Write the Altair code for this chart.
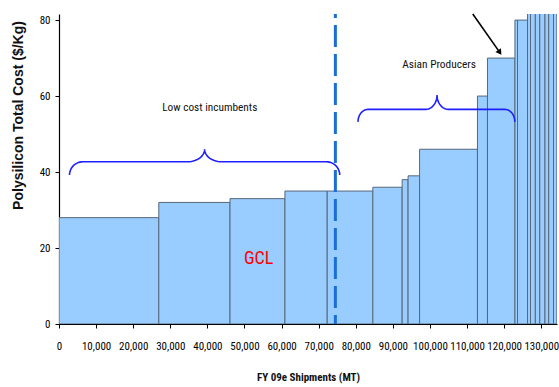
import math
import altair as alt
import pandas as pd

# Cumulative FY09e shipments (MT) at the right edge of each producer block
ship_end = [26900, 46100, 60900, 72300, 84600, 92500, 94100, 97200, 112800,
            115500, 122900, 123600, 126300, 127100, 128400, 129600, 131000,
            132000, 133300, 134200]
# Total polysilicon cost of each producer ($/Kg)
cost = [28, 32, 33, 35, 35, 36, 38, 39, 46, 60, 70, 80, 80,
        88, 92, 96, 100, 105, 110, 120]

x_ticks = list(range(0, 130001, 10000))
y_ticks = [0, 20, 40, 60, 80]
X_MAX = 134240
Y_MAX = 81.6

gcl_capacity_mark = 74500  # dashed divider

NARROW = "Noto Sans Condensed, Roboto Condensed, Open Sans Condensed, Liberation Sans"
BOLD = "Liberation Sans, Arial"

ship_start = [0] + ship_end[:-1]
bars = pd.DataFrame({"start": ship_start, "end": ship_end, "cost": cost})

xs = alt.Scale(domain=[0, X_MAX], nice=False, zero=False)
ys = alt.Scale(domain=[0, Y_MAX], nice=False)

x_axis = alt.Axis(values=x_ticks, format=",.0f", title="FY 09e Shipments (MT)",
                  labelFlush=False, labelPadding=12, titlePadding=20,
                  titleFont=NARROW, titleFontSize=11, titleFontWeight="bold")
y_axis = alt.Axis(values=y_ticks, format=".0f", title="Polysilicon Total Cost ($/Kg)",
                  labelPadding=5, titleFont=BOLD, titleFontSize=14,
                  titleFontWeight="bold", titleX=-41, titleY=101,
                  titleBaseline="middle", titleAngle=-90, titleAlign="center")

X = dict(scale=xs, axis=x_axis)
Y = dict(scale=ys, axis=y_axis)

cost_curve = alt.Chart(bars).mark_rect(
    fill="#99CCFF", stroke="#56687a", strokeWidth=1, clip=True
).encode(
    x=alt.X("start:Q", **X),
    x2="end:Q",
    y=alt.Y("cost:Q", **Y),
    y2=alt.datum(0),
)


def brace(name, x0, x1, xm, yb, drop, rise, rx_end, rx_mid, n=14):
    """Curly brace opening downward, tip pointing up at xm."""
    pts = []
    # left curl: vertical end rising into horizontal
    for i in range(n + 1):
        t = i / n * math.pi / 2
        pts.append((x0 + rx_end - rx_end * math.cos(t), yb - drop + drop * math.sin(t)))
    # rise to the tip
    for i in range(n + 1):
        t = i / n * math.pi / 2
        pts.append((xm - rx_mid + rx_mid * math.sin(t), yb + rise - rise * math.cos(t)))
    # back down from the tip
    for i in range(n + 1):
        t = i / n * math.pi / 2
        pts.append((xm + rx_mid - rx_mid * math.cos(t), yb + rise - rise * math.sin(t)))
    # right curl
    for i in range(n + 1):
        t = i / n * math.pi / 2
        pts.append((x1 - rx_end + rx_end * math.sin(t), yb - drop + drop * math.cos(t)))
    return pd.DataFrame({"x": [p[0] for p in pts], "y": [p[1] for p in pts],
                         "k": list(range(len(pts))), "brace": name})


braces = pd.concat([
    brace("incumbents", 2830, 75670, 39250, 42.7, 3.5, 3.3, 3600, 4600),
    brace("asian", 80600, 122870, 101900, 56.5, 3.3, 3.8, 2700, 3000),
])

brace_lines = alt.Chart(braces).mark_line(
    color="#1f1fff", strokeWidth=1.6, clip=False
).encode(
    x=alt.X("x:Q", **X), y=alt.Y("y:Q", **Y),
    order="k:Q", detail="brace:N",
)

divider = alt.Chart(pd.DataFrame({"x": [gcl_capacity_mark]})).mark_rule(
    color="#1a6fd6", strokeWidth=3, strokeDash=[22, 7], strokeDashOffset=18
).encode(x=alt.X("x:Q", **X))

labels = pd.DataFrame({
    "x": [40640, 102450, 53820],
    "y": [56.8, 68.2, 17.1],
    "text": ["Low cost incumbents", "Asian Producers", "GCL"],
    "color": ["#111111", "#111111", "#ff0000"],
    "size": [11.3, 11.4, 18],
})
label_marks = alt.Chart(labels).mark_text(
    font=NARROW, align="center", baseline="middle"
).encode(
    x=alt.X("x:Q", **X), y=alt.Y("y:Q", **Y), text="text:N",
    color=alt.Color("color:N", scale=None),
    size=alt.Size("size:Q", scale=None),
)

arrow = pd.DataFrame({"x": [111540, 118670], "y": [Y_MAX, 71.7], "k": [0, 1]})
arrow_line = alt.Chart(arrow).mark_line(
    color="black", strokeWidth=1.6, clip=False
).encode(x=alt.X("x:Q", **X), y=alt.Y("y:Q", **Y), order="k:Q")
arrow_head = alt.Chart(arrow.iloc[[1]]).mark_point(
    shape="triangle", filled=True, color="black", size=45, angle=146, opacity=1
).encode(x=alt.X("x:Q", **X), y=alt.Y("y:Q", **Y))

chart = alt.layer(
    cost_curve, brace_lines, divider, label_marks, arrow_line, arrow_head
).properties(
    width=498, height=310,
    autosize=alt.AutoSizeParams(type="none"),
    padding={"left": 59, "top": 14, "right": 2, "bottom": 63},
    background="white",
).configure_view(
    stroke=None
).configure_axis(
    grid=False, domainColor="black", domainWidth=1.2, tickColor="black",
    tickSize=4, tickWidth=1, labelFont=NARROW, labelFontSize=11,
    labelColor="#000000", titleColor="#111111",
)

chart.save("out.html", embed_options={"renderer": "svg", "actions": False})
